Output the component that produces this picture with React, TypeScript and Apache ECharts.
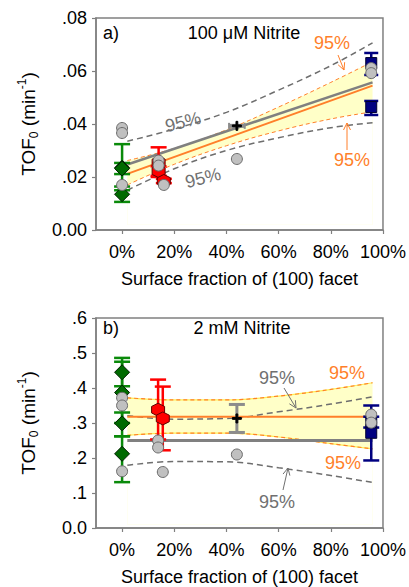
import React, { useEffect, useRef } from 'react';
import * as echarts from 'echarts';

const FONT = 'Liberation Sans, Arial, sans-serif';
const xTicks = [0, 20, 40, 60, 80, 100];

// ---------- Panel a (100 µM nitrite) ----------
// [x, y, lo, hi]
const aGreen = [[0, 0.0235, 0.0150, 0.0324], [0, 0.0232, 0.0211, 0.0253], [0, 0.0135, 0.0106, 0.0164]];
const aRed = [[14, 0.0255, 0.0200, 0.0312], [14, 0.0222, 0.0205, 0.0240], [16, 0.0185, 0.0177, 0.0193]];
const aBlue = [[95.5, 0.0630, 0.0585, 0.0668], [95.5, 0.0464, 0.0434, 0.0487]];
const aGray = [[0, 0.0385], [0, 0.0366], [0, 0.0170], [14, 0.0262], [14, 0.0243], [16, 0.0170], [44, 0.0268], [95.5, 0.0611], [95.5, 0.0592]];
const aCross = [44, 0.0393];
const aCrossXErr = [0.0393, 41, 47];
const aFitX = [2, 96];
const aGrayFit = [0.0247, 0.0557];
const aOrangeFit = [0.0212, 0.0545];
const aBandX = [2, 20, 40, 60, 80, 96];
const aGrayUpper = [0.0335, 0.0381, 0.0444, 0.0528, 0.0620, 0.0706];
const aGrayLower = [0.0150, 0.0231, 0.0300, 0.0348, 0.0386, 0.0405];
const aOrangeUpper = [0.0262, 0.0308, 0.0378, 0.0464, 0.0557, 0.0635];
const aOrangeLower = [0.0170, 0.0248, 0.0318, 0.0374, 0.0419, 0.0446];

// ---------- Panel b (2 mM nitrite) ----------
const bGreen = [[0, 0.445, 0.405, 0.486], [0, 0.387, 0.300, 0.475], [0, 0.299, 0.262, 0.330], [0, 0.212, 0.131, 0.262]];
const bRed = [[13.8, 0.338, 0.253, 0.424], [15.6, 0.313, 0.222, 0.404]];
const bBlue = [[95.5, 0.272, 0.193, 0.350], [95.5, 0.302, 0.287, 0.318]];
const bGray = [[0, 0.372], [0, 0.350], [0, 0.162], [13.8, 0.250], [13.8, 0.230], [15.6, 0.160], [44, 0.210], [95.5, 0.324], [95.5, 0.301]];
const bCross = [44, 0.313, 0.273, 0.353];
const bFitX = [2, 96];
const bGrayFit = [0.250, 0.250];
const bOrangeFit = [0.318, 0.318];
const bBandX = [2, 20, 40, 60, 80, 96];
const bGrayUpper = [0.321, 0.311, 0.313, 0.332, 0.354, 0.375];
const bGrayLower = [0.179, 0.190, 0.189, 0.172, 0.150, 0.130];
const bOrangeUpper = [0.372, 0.366, 0.366, 0.377, 0.396, 0.415];
const bOrangeLower = [0.265, 0.271, 0.271, 0.260, 0.241, 0.226];

const ORANGE = '#ff7f2a';
const GRAY = '#808080';
const DGRAY = '#6e6e6e';
const YELLOW = '#ffffc8';
const HEX = 'path://M50,0 L93.3,25 L93.3,75 L50,100 L6.7,75 L6.7,25 Z';
const PLUS = 'path://M4,0 L6,0 L6,4 L10,4 L10,6 L6,6 L6,10 L4,10 L4,6 L0,6 L0,4 L4,4 Z';

function vErr(data: number[][], idx: number, color: string, width: number, cap: number, z: number) {
  return {
    type: 'custom', xAxisIndex: idx, yAxisIndex: idx, z, silent: true,
    data: data.map((d) => [d[0], d[2], d[3]]),
    renderItem: (_p: any, api: any) => {
      const x = api.value(0), lo = api.value(1), hi = api.value(2);
      const p1 = api.coord([x, lo]);
      const p2 = api.coord([x, hi]);
      const style = { stroke: color, lineWidth: width };
      return {
        type: 'group', children: [
          { type: 'line', shape: { x1: p1[0], y1: p1[1], x2: p2[0], y2: p2[1] }, style },
          { type: 'line', shape: { x1: p1[0] - cap, y1: p1[1], x2: p1[0] + cap, y2: p1[1] }, style },
          { type: 'line', shape: { x1: p2[0] - cap, y1: p2[1], x2: p2[0] + cap, y2: p2[1] }, style },
        ],
      };
    },
  };
}

function hErr(data: number[][], idx: number, color: string, width: number, cap: number, z: number) {
  return {
    type: 'custom', xAxisIndex: idx, yAxisIndex: idx, z, silent: true,
    data,
    renderItem: (_p: any, api: any) => {
      const y = api.value(0), lo = api.value(1), hi = api.value(2);
      const p1 = api.coord([lo, y]);
      const p2 = api.coord([hi, y]);
      const style = { stroke: color, lineWidth: width };
      return {
        type: 'group', children: [
          { type: 'line', shape: { x1: p1[0], y1: p1[1], x2: p2[0], y2: p2[1] }, style },
          { type: 'line', shape: { x1: p1[0], y1: p1[1] - cap, x2: p1[0], y2: p1[1] + cap }, style: { stroke: color, lineWidth: 2 } },
          { type: 'line', shape: { x1: p2[0], y1: p2[1] - cap, x2: p2[0], y2: p2[1] + cap }, style: { stroke: color, lineWidth: 2 } },
        ],
      };
    },
  };
}

function scatter(data: number[][], idx: number, symbol: string, size: any, fill: string, border: string, z: number) {
  return {
    type: 'scatter', xAxisIndex: idx, yAxisIndex: idx, z, silent: true,
    data: data.map((d) => [d[0], d[1]]),
    symbol, symbolSize: size,
    itemStyle: { color: fill, borderColor: border, borderWidth: 1, opacity: 1 },
  };
}

function line(xs: number[], ys: number[], idx: number, color: string, width: number, type: any, z: number, smooth: any = false) {
  return {
    type: 'line', xAxisIndex: idx, yAxisIndex: idx, z, silent: true,
    data: xs.map((x, i) => [x, ys[i]]),
    symbol: 'none', smooth,
    lineStyle: { color, width, type },
  };
}

// yellow band: fill under upper curve, then white fill under lower curve
function band(xs: number[], lo: number[], hi: number[], idx: number, origin: number) {
  return [
    {
      type: 'line', xAxisIndex: idx, yAxisIndex: idx, z: 1, silent: true,
      data: xs.map((x, i) => [x, hi[i]]), symbol: 'none', smooth: 0.4,
      lineStyle: { opacity: 0 }, areaStyle: { color: YELLOW, opacity: 1, origin },
    },
    {
      type: 'line', xAxisIndex: idx, yAxisIndex: idx, z: 1, silent: true,
      data: xs.map((x, i) => [x, lo[i]]), symbol: 'none', smooth: 0.4,
      lineStyle: { opacity: 0 }, areaStyle: { color: '#ffffff', opacity: 1, origin },
    },
  ];
}

function arrow(x1: number, y1: number, x2: number, y2: number, color: string) {
  const ang = Math.atan2(y2 - y1, x2 - x1);
  const L = 7, W = 3.5;
  const bx = x2 - L * Math.cos(ang), by = y2 - L * Math.sin(ang);
  const px = -Math.sin(ang) * W, py = Math.cos(ang) * W;
  return [
    { type: 'line', shape: { x1, y1, x2, y2 }, style: { stroke: color, lineWidth: 1 }, z: 20 },
    { type: 'polyline', shape: { points: [[bx + px, by + py], [x2, y2], [bx - px, by - py]] }, style: { stroke: color, lineWidth: 1, fill: null }, z: 20 },
  ];
}

function txt(text: string, x: number, y: number, color: string, size: number, rotation = 0, align = 'center') {
  return {
    type: 'text', x, y, rotation, z: 20,
    style: { text, fill: color, font: `${size}px ${FONT}`, align, verticalAlign: 'middle' },
  };
}

function xAxis(idx: number) {
  return {
    type: 'value', gridIndex: idx, min: -10, max: 100,
    axisLine: { show: true, onZero: false, lineStyle: { color: GRAY, width: 1.5 } },
    axisTick: { show: true, inside: false, length: 4, customValues: xTicks, lineStyle: { color: GRAY, width: 1.2 } },
    axisLabel: { customValues: xTicks, formatter: (v: number) => `${v}%`, fontSize: 18, color: '#000', margin: 13, fontFamily: FONT },
    splitLine: { show: false },
    name: 'Surface fraction of (100) facet', nameLocation: 'middle', nameGap: 40,
    nameTextStyle: { fontSize: 18, color: '#000', fontFamily: FONT },
  };
}

function yAxis(idx: number, max: number, interval: number, fmt: (v: number) => string) {
  return {
    type: 'value', gridIndex: idx, min: 0, max, interval,
    axisLine: { show: true, onZero: false, lineStyle: { color: GRAY, width: 1.5 } },
    axisTick: { show: true, inside: false, length: 4, lineStyle: { color: GRAY, width: 1.2 } },
    axisLabel: { formatter: fmt, fontSize: 18, color: '#000', margin: 9, fontFamily: FONT },
    splitLine: { show: false },
    name: '{t|TOF}{s|0}{t| (min}{p|-1}{t|)}', nameLocation: 'middle', nameGap: 56, nameRotate: 90,
    nameTextStyle: {
      fontFamily: FONT, color: '#000',
      rich: {
        t: { fontSize: 19, lineHeight: 24, fontFamily: FONT, color: '#000' },
        s: { fontSize: 12, lineHeight: 13, verticalAlign: 'bottom', fontFamily: FONT, color: '#000' },
        p: { fontSize: 12, lineHeight: 13, verticalAlign: 'top', fontFamily: FONT, color: '#000' },
      },
    },
  };
}

export default function App() {
  const ref = useRef<HTMLDivElement>(null);
  useEffect(() => {
    if (!ref.current) return;
    const chart = echarts.init(ref.current, null, { renderer: 'svg' });
    const option: any = {
      animation: false,
      backgroundColor: '#fff',
      grid: [
        { left: 96, top: 18, width: 289, height: 212, show: true, borderColor: GRAY, borderWidth: 1.5, backgroundColor: 'transparent' },
        { left: 96, top: 318, width: 289, height: 211, show: true, borderColor: GRAY, borderWidth: 1.5, backgroundColor: 'transparent' },
      ],
      xAxis: [xAxis(0), xAxis(1)],
      yAxis: [
        yAxis(0, 0.08, 0.02, (v) => (v === 0 ? '0.00' : v.toFixed(2).replace(/^0/, ''))),
        yAxis(1, 0.6, 0.1, (v) => (v === 0 ? '0.0' : v.toFixed(1).replace(/^0/, ''))),
      ],
      series: [
        // panel a
        ...band(aBandX, aOrangeLower, aOrangeUpper, 0, 0.002),
        line(aBandX, aOrangeUpper, 0, ORANGE, 1, [4, 3], 2, 0.4),
        line(aBandX, aOrangeLower, 0, ORANGE, 1, [4, 3], 2, 0.4),
        line(aBandX, aGrayUpper, 0, DGRAY, 1.5, [6, 4], 2, 0.4),
        line(aBandX, aGrayLower, 0, DGRAY, 1.5, [6, 4], 2, 0.4),
        line(aFitX, aGrayFit, 0, GRAY, 2.5, 'solid', 3),
        line(aFitX, aOrangeFit, 0, ORANGE, 2, 'solid', 3),
        vErr(aGreen, 0, '#0a8a0a', 2.5, 8, 4),
        vErr(aRed, 0, '#ff0000', 2.5, 8, 4),
        vErr(aBlue, 0, '#000080', 2.5, 7, 4),
        hErr([aCrossXErr], 0, '#8c8c8c', 4, 3, 4),
        scatter(aGreen, 0, 'diamond', [15, 15], '#006a00', '#002000', 5),
        scatter(aRed, 0, HEX, 13, '#ff0000', '#600000', 5),
        scatter(aBlue, 0, 'rect', 11, '#000080', '#000030', 5),
        scatter(aGray, 0, 'circle', 11, '#c0c0c0', '#6a6a6a', 6),
        scatter([aCross], 0, PLUS, 9, '#000', '#000', 7),
        // panel b
        ...band(bBandX, bOrangeLower, bOrangeUpper, 1, 0.01),
        line(bBandX, bOrangeUpper, 1, '#ffee55', 1.2, 'solid', 2, 0.4),
        line(bBandX, bOrangeLower, 1, '#ffee55', 1.2, 'solid', 2, 0.4),
        line(bBandX, bOrangeUpper, 1, ORANGE, 1.2, [4, 3], 2, 0.4),
        line(bBandX, bOrangeLower, 1, ORANGE, 1.2, [4, 3], 2, 0.4),
        line(bBandX, bGrayUpper, 1, DGRAY, 1.5, [6, 4], 2, 0.4),
        line(bBandX, bGrayLower, 1, DGRAY, 1.5, [6, 4], 2, 0.4),
        line(bFitX, bGrayFit, 1, GRAY, 3, 'solid', 3),
        line(bFitX, bOrangeFit, 1, ORANGE, 2, 'solid', 3),
        vErr(bGreen, 1, '#0a8a0a', 2.5, 8, 4),
        vErr(bRed, 1, '#ff0000', 2.5, 8, 4),
        vErr(bBlue, 1, '#000080', 2.5, 8, 4),
        vErr([bCross], 1, '#8c8c8c', 3, 8, 4),
        scatter(bGreen, 1, 'diamond', [15, 15], '#006a00', '#002000', 5),
        scatter(bRed, 1, HEX, 13, '#ff0000', '#600000', 5),
        scatter(bBlue, 1, 'rect', 11, '#000080', '#000030', 5),
        scatter(bGray, 1, 'circle', 11, '#c0c0c0', '#6a6a6a', 6),
        scatter([bCross], 1, PLUS, 9, '#000', '#000', 7),
      ],
      graphic: [
        txt('a)', 103, 33, '#000', 18, 0, 'left'),
        txt('100 \u03bcM Nitrite', 244, 33, '#000', 18),
        txt('95%', 332, 43, ORANGE, 18),
        ...arrow(338, 55, 344, 70, ORANGE),
        txt('95%', 352, 160, ORANGE, 18),
        ...arrow(347, 150, 347, 123, ORANGE),
        txt('95%', 183, 122, '#707070', 18, 0.25),
        txt('95%', 203, 178, '#707070', 18, 0.25),
        txt('b)', 103, 328, '#000', 18, 0, 'left'),
        txt('2 mM Nitrite', 242, 328, '#000', 18),
        txt('95%', 277, 378, '#707070', 18),
        ...arrow(284, 388, 296, 408, '#707070'),
        txt('95%', 347, 373, ORANGE, 18),
        txt('95%', 343, 463, ORANGE, 18),
        txt('95%', 277, 502, '#707070', 18),
        ...arrow(283, 490, 288, 468, '#707070'),
      ],
    };
    chart.setOption(option);
    return () => chart.dispose();
  }, []);
  return <div ref={ref} style={{ position: 'absolute', left: 0, top: 0, width: 409, height: 587 }} />;
}
